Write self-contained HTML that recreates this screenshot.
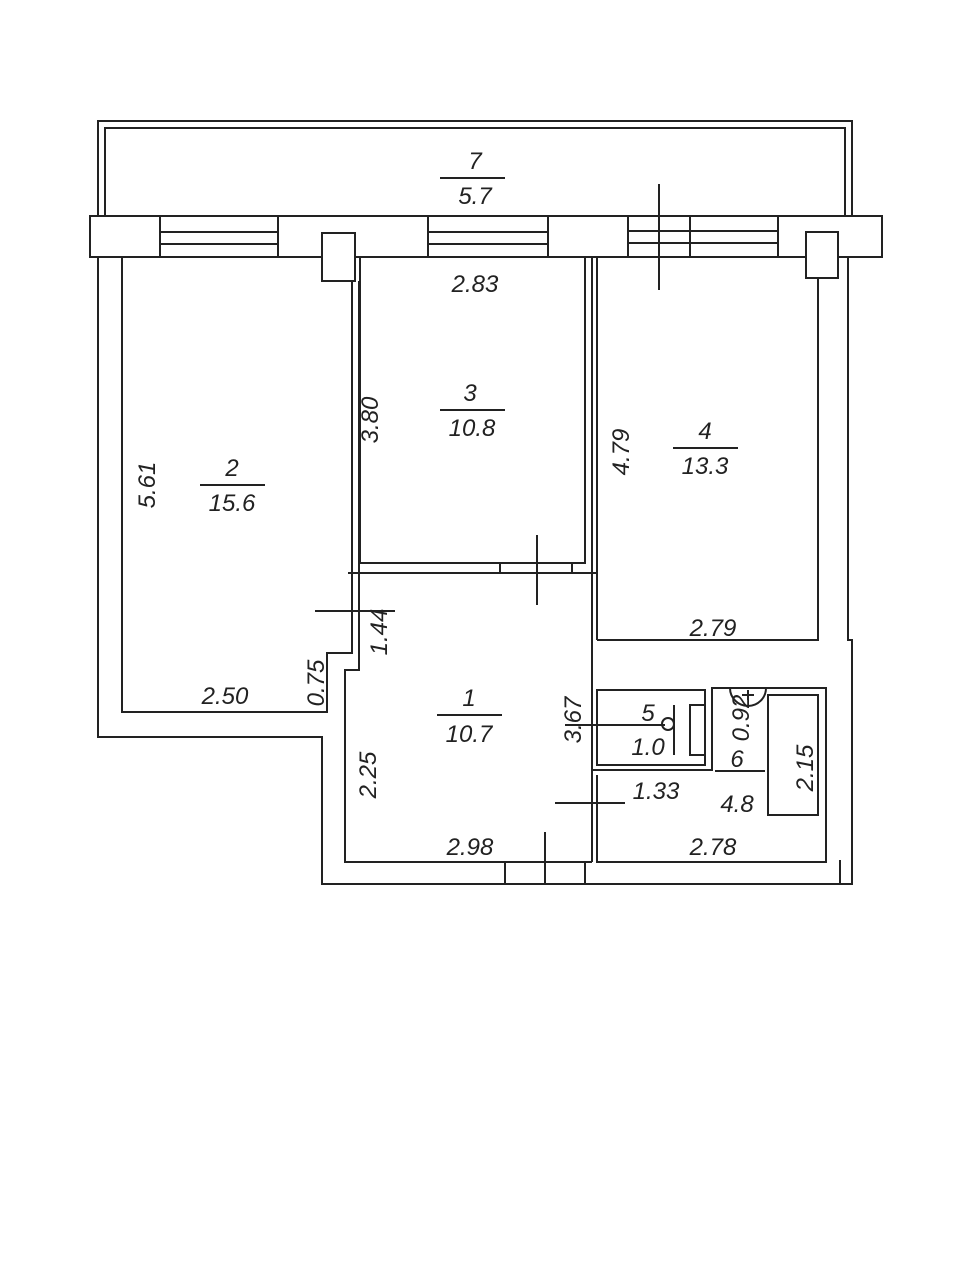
<!DOCTYPE html>
<html><head><style>body{margin:0;background:#fff}svg{display:block}text{font-family:"Liberation Sans",sans-serif;font-style:italic;font-size:24px;fill:#222}</style></head>
<body>
<svg width="963" height="1280" viewBox="0 0 963 1280" xmlns="http://www.w3.org/2000/svg">
<g stroke="#222" stroke-width="2" fill="none">
<polyline points="98,216 98,121 852,121 852,216"/>
<polyline points="105,216 105,128 845,128 845,216"/>
<rect x="90" y="216" width="792" height="41" fill="#fff"/>
<line x1="160" y1="216" x2="160" y2="257"/><line x1="278" y1="216" x2="278" y2="257"/>
<line x1="160" y1="232" x2="278" y2="232"/><line x1="160" y1="244" x2="278" y2="244"/>
<line x1="428" y1="216" x2="428" y2="257"/><line x1="548" y1="216" x2="548" y2="257"/>
<line x1="428" y1="232" x2="548" y2="232"/><line x1="428" y1="244" x2="548" y2="244"/>
<line x1="628" y1="216" x2="628" y2="257"/><line x1="690" y1="216" x2="690" y2="257"/><line x1="778" y1="216" x2="778" y2="257"/>
<line x1="628" y1="231" x2="778" y2="231"/><line x1="628" y1="243" x2="778" y2="243"/>
<line x1="659" y1="184" x2="659" y2="290"/>
<rect x="322" y="233" width="33" height="48" fill="#fff"/>
<rect x="806" y="232" width="32" height="46" fill="#fff"/>
<polyline points="98,257 98,737 322,737 322,884 852,884 852,640 848,640 848,257"/>
<polyline points="818,278 818,640 597,640"/>
<polyline points="122,257 122,712 327,712 327,653 352,653 352,281"/>
<line x1="359" y1="281" x2="359" y2="573"/>
<polyline points="360,257 360,563 585,563 585,257"/>
<line x1="348" y1="573" x2="597" y2="573"/>
<line x1="500" y1="563" x2="500" y2="573"/><line x1="572" y1="563" x2="572" y2="573"/>
<line x1="592" y1="257" x2="592" y2="862"/><line x1="597" y1="257" x2="597" y2="640"/>
<line x1="537" y1="535" x2="537" y2="605"/>
<polyline points="359,573 359,670 345,670 345,862 592,862"/>
<line x1="315" y1="611" x2="395" y2="611"/>
<line x1="505" y1="862" x2="505" y2="884"/><line x1="585" y1="862" x2="585" y2="884"/>
<line x1="545" y1="832" x2="545" y2="884"/>
<rect x="597" y="690" width="108" height="75"/>
<polyline points="592,770 712,770 712,688 826,688 826,862 597,862 597,775"/>
<polyline points="705,705 690,705 690,755 705,755"/>
<line x1="674" y1="705" x2="674" y2="755"/>
<circle cx="668" cy="724" r="6"/>
<line x1="565" y1="725" x2="660" y2="725"/>
<line x1="555" y1="803" x2="625" y2="803"/>
<path d="M730,688 A14,14 0 0 0 766,688" />
<line x1="748" y1="690" x2="748" y2="700"/><line x1="742" y1="695" x2="754" y2="695"/>
<rect x="768" y="695" width="50" height="120"/>
<line x1="840" y1="860" x2="840" y2="884"/>
<line x1="440" y1="178" x2="505" y2="178"/>
<line x1="200" y1="485" x2="265" y2="485"/>
<line x1="440" y1="410" x2="505" y2="410"/>
<line x1="673" y1="448" x2="738" y2="448"/>
<line x1="437" y1="715" x2="502" y2="715"/>
<line x1="630" y1="725" x2="665" y2="725"/>
<line x1="715" y1="771" x2="765" y2="771"/>
</g>
<g text-anchor="middle">
<text x="475" y="169">7</text><text x="475" y="204">5.7</text>
<text x="475" y="292">2.83</text>
<text x="470" y="401">3</text><text x="472" y="436">10.8</text>
<text x="232" y="476">2</text><text x="232" y="511">15.6</text>
<text x="705" y="439">4</text><text x="705" y="474">13.3</text>
<text x="713" y="636">2.79</text>
<text x="225" y="704">2.50</text>
<text x="469" y="706">1</text><text x="469" y="742">10.7</text>
<text x="648" y="721">5</text><text x="648" y="755">1.0</text>
<text x="737" y="767">6</text><text x="737" y="812">4.8</text>
<text x="656" y="799">1.33</text>
<text x="470" y="855">2.98</text>
<text x="713" y="855">2.78</text>
<text transform="translate(155,485) rotate(-90)">5.61</text>
<text transform="translate(378,420) rotate(-90)">3.80</text>
<text transform="translate(629,452) rotate(-90)">4.79</text>
<text transform="translate(387,632) rotate(-90)">1.44</text>
<text transform="translate(324,683) rotate(-90)">0.75</text>
<text transform="translate(581,720) rotate(-90)">3.67</text>
<text transform="translate(749,718) rotate(-90)">0.92</text>
<text transform="translate(376,775) rotate(-90)">2.25</text>
<text transform="translate(813,768) rotate(-90)">2.15</text>
</g>
</svg>
</body></html>
